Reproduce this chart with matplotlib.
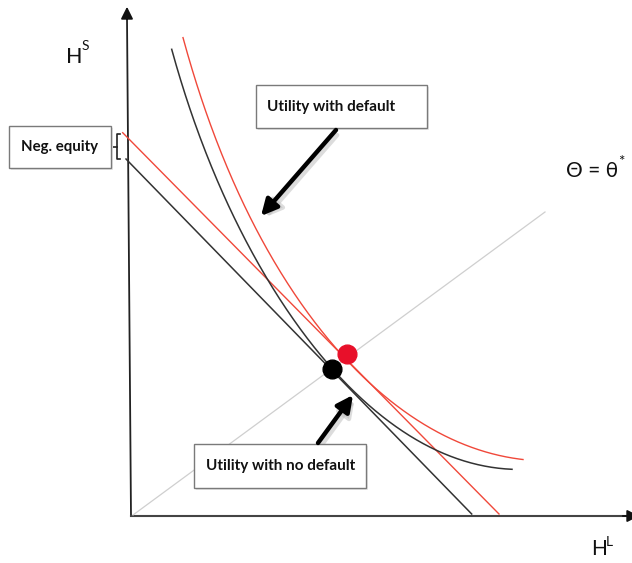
import numpy as np
import matplotlib
matplotlib.use("Agg")
import matplotlib.pyplot as plt
from matplotlib.patches import FancyArrowPatch, Rectangle

# ---- diagram data (pixel-space coordinates of the schematic) ----
black_curve_x = [171.7, 193, 215.7, 243, 268, 295, 332, 380, 435, 480, 512]
black_curve_y = [50, 115, 180, 235, 280, 320, 370, 413, 451, 465, 469]
red_curve_x = [183, 205, 231.7, 255, 280, 313, 347, 380, 430, 480, 523]
red_curve_y = [39, 105, 180, 230, 270, 321, 357, 391, 430, 452, 458]
black_budget_x = [126, 471.7]
black_budget_y = [159, 514]
red_budget_x = [122.7, 499]
red_budget_y = [132.7, 514]
diag_x = [133, 545]
diag_y = [515, 212]
black_dot = (332, 369)
red_dot = (347, 354)

RED = "#f0483a"
DOT_RED = "#e8102a"
DARK = "#333333"


def smooth_curve(xs, ys, n=300):
    """Least-squares fit y = a + b/(x-c) + d*x + e*x^2 through the read points."""
    xs = np.asarray(xs, float)
    ys = np.asarray(ys, float)
    best = None
    for c in np.linspace(xs[0] - 400, xs[0] - 2, 800):
        A = np.column_stack([np.ones_like(xs), 1 / (xs - c), xs, xs ** 2])
        coef, res, *_ = np.linalg.lstsq(A, ys, rcond=None)
        err = np.sum((A @ coef - ys) ** 2)
        if best is None or err < best[0]:
            best = (err, c, coef)
    _, c, coef = best
    xx = np.linspace(xs[0], xs[-1], n)
    A = np.column_stack([np.ones_like(xx), 1 / (xx - c), xx, xx ** 2])
    return xx, A @ coef


fig = plt.figure(figsize=(6.32, 5.63), dpi=100)
ax = fig.add_axes([0, 0, 1, 1])
ax.set_xlim(0, 632)
ax.set_ylim(563, 0)
ax.axis("off")

# axes of the diagram
ax.plot([127, 131], [18, 516], color="#222222", lw=1.3, zorder=2)
ax.add_patch(FancyArrowPatch((127, 22), (127, 4), arrowstyle="-|>", mutation_scale=18,
                             color="#111111", lw=1.3, zorder=3))
ax.plot([131, 628], [516, 516], color="#444444", lw=1.5, zorder=2)
ax.add_patch(FancyArrowPatch((620, 516), (642, 516), arrowstyle="-|>", mutation_scale=18,
                             color="#111111", lw=1.3, zorder=3, clip_on=True))

# ray
ax.plot(diag_x, diag_y, color="#cfcfcf", lw=0.9, zorder=2)

# budget lines
ax.plot(black_budget_x, black_budget_y, color=DARK, lw=1.1, zorder=3)
ax.plot(red_budget_x, red_budget_y, color=RED, lw=1.0, zorder=3)

# indifference curves
bx, by = smooth_curve(black_curve_x, black_curve_y)
rx, ry = smooth_curve(red_curve_x, red_curve_y)
ax.plot(bx, by, color=DARK, lw=1.1, zorder=3)
ax.plot(rx, ry, color=RED, lw=1.0, zorder=3)

# dots
ax.plot(*red_dot, "o", color=DOT_RED, ms=13.5, zorder=5)
ax.plot(*black_dot, "o", color="black", ms=13.5, zorder=5)

# boxes
box_font = ["Lato", "DejaVu Sans"]
def box(x0, y0, x1, y1, text, tx, fs):
    ax.add_patch(Rectangle((x0 + 2, y0 + 2), x1 - x0, y1 - y0, facecolor="#e6e6e6",
                           edgecolor="none", zorder=6))
    ax.add_patch(Rectangle((x0, y0), x1 - x0, y1 - y0, facecolor="white",
                           edgecolor="#7a7a7a", lw=1.0, zorder=7))
    ax.text(tx, (y0 + y1) / 2, text, ha="left", va="center", fontsize=fs,
            fontweight="bold", family=box_font, color="#111111", zorder=8)

box(256, 85, 427, 128, "Utility with default", 267, 11)
box(194, 444, 366, 488, "Utility with no default", 206, 11)
box(9, 126, 111, 168, "Neg. equity", 21, 10.8)

# bracket
ax.plot([120, 116.5, 116.5, 120], [134, 134, 159, 159], color="#222222", lw=1.2, zorder=4)
ax.plot([112, 116.5], [146.5, 146.5], color="#222222", lw=1.2, zorder=4)

# thick arrows with soft shadows
def thick_arrow(p0, p1):
    sh = FancyArrowPatch((p0[0] + 3, p0[1] + 3), (p1[0] + 3, p1[1] + 3), arrowstyle="-|>",
                         mutation_scale=24, color="#bbbbbb", lw=3.2, alpha=0.5, zorder=6)
    ax.add_patch(sh)
    ar = FancyArrowPatch(p0, p1, arrowstyle="-|>", mutation_scale=24, color="black",
                         lw=3.2, zorder=7, shrinkA=0, shrinkB=0)
    ax.add_patch(ar)

thick_arrow((336, 130), (261, 216))
thick_arrow((318, 443), (353, 395))

# labels
lab_font = ["Lato", "DejaVu Sans"]
ax.text(66, 63, "H", fontsize=15.5, family=lab_font, ha="left", va="baseline", color="#111111")
ax.text(82, 50, "S", fontsize=10, family=lab_font, ha="left", va="baseline", color="#111111")
ax.text(591, 555, "H", fontsize=15, family=lab_font, ha="left", va="baseline", color="#111111")
ax.text(606, 546, "L", fontsize=10, family=lab_font, ha="left", va="baseline", color="#111111")
ax.text(566, 177, "\u0398 = \u03b8", fontsize=15, family=lab_font, ha="left", va="baseline",
        color="#111111")
ax.text(618, 166, "*", fontsize=11, family=lab_font, ha="left", va="baseline", color="#111111")

fig.savefig("out.png", dpi=100)
